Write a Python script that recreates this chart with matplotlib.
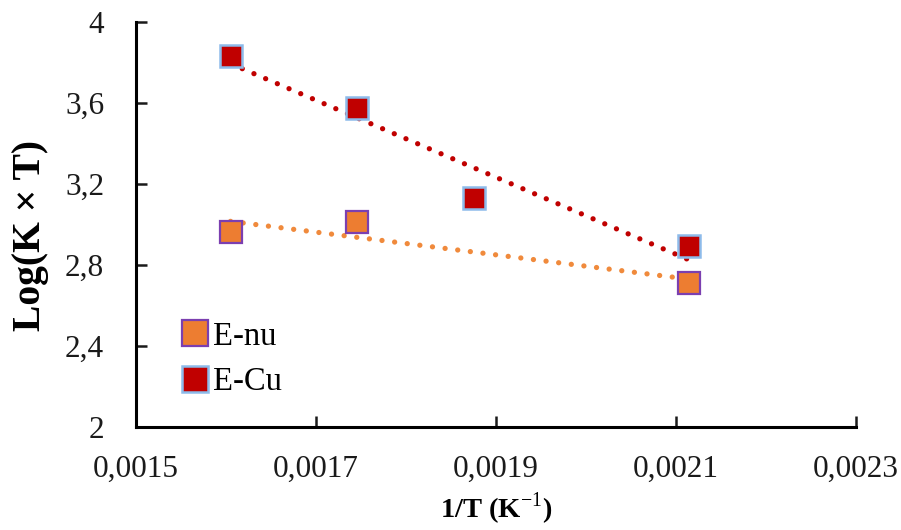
import numpy as np
import matplotlib
matplotlib.use("Agg")
import matplotlib.pyplot as plt

plt.rcParams['font.family'] = ['Liberation Serif', 'DejaVu Serif']
plt.rcParams['mathtext.fontset'] = 'custom'
plt.rcParams['mathtext.rm'] = 'Liberation Serif'

# data (x = 1/T)
x_cu = [0.001605, 0.001745, 0.001876, 0.002114]
y_cu = [3.832, 3.575, 3.131, 2.894]

x_nu = [0.001605, 0.001745, 0.002114]
y_nu = [2.963, 3.012, 2.711]

xticks = [0.0015, 0.0017, 0.0019, 0.0021, 0.0023]
yticks = [2.0, 2.4, 2.8, 3.2, 3.6, 4.0]

fig = plt.figure(figsize=(9.01, 5.30), dpi=100)
ax = fig.add_axes([0.151, 0.194, 0.799, 0.764])

dot = (0, (0.01, 2.4))

# linear trend lines
for xs, ys, col in [(x_cu, y_cu, '#C00000'), (x_nu, y_nu, '#F08A3C')]:
    k, b = np.polyfit(xs, ys, 1)
    xx = np.array([xs[0], xs[-1]])
    ax.plot(xx, k * xx + b, color=col, lw=3.8, linestyle=dot,
            dash_capstyle='round', zorder=2)

ax.plot(x_nu, y_nu, 's', ms=16, mfc='#ED7D31', mec='#7B3FB0', mew=1.6,
        ls='none', label='E-nu', zorder=3)
ax.plot(x_cu, y_cu, 's', ms=16, mfc='#C00000', mec='#8DBBEA', mew=1.8,
        ls='none', label='E-Cu', zorder=3)

ax.set_xlim(0.0015, 0.0023)
ax.set_ylim(2, 4)
ax.set_xticks(xticks)
ax.set_yticks(yticks)
ax.set_xticklabels([f"{v:.4f}".replace('.', ',') for v in xticks])
ax.set_yticklabels([f"{v:g}".replace('.', ',') for v in yticks])
ax.tick_params(direction='in', length=8, width=1.8, labelsize=22.5,
               colors='#1a1a1a')
ax.tick_params(axis='y', pad=23)
ax.tick_params(axis='x', pad=20)

for side in ['top', 'right']:
    ax.spines[side].set_visible(False)
for side in ['left', 'bottom']:
    ax.spines[side].set_linewidth(2.2)
    ax.spines[side].set_color('black')

ax.set_xlabel('1/T (K$^{-1}$)', fontsize=20.5, fontweight='bold',
              labelpad=5)
ax.set_ylabel('Log(K × T)', fontsize=28.5, fontweight='bold')
ax.yaxis.set_label_coords(-0.121, 0.474)

ax.legend(loc='lower left', bbox_to_anchor=(0.018, 0.002), frameon=False,
          fontsize=23.5, handletextpad=0.05, labelspacing=0.45,
          markerscale=1.2, handlelength=1.0)

fig.savefig('out.png', dpi=100)
